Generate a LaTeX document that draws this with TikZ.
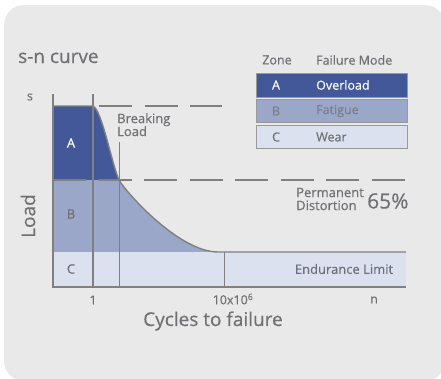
\documentclass[tikz,border=0pt]{standalone}
\usepackage{fontspec}
\setmainfont{Open Sans}[FakeBold=0.5]
\definecolor{panel}{RGB}{233,233,233}
\definecolor{zonea}{RGB}{67,88,152}
\definecolor{zoneb}{RGB}{155,167,201}
\definecolor{zonec}{RGB}{220,225,240}
\definecolor{txtgray}{RGB}{112,113,117}
\definecolor{linegray}{RGB}{128,128,128}
\newcommand{\fs}[1]{\fontsize{#1}{#1}\selectfont}
\begin{document}
\begin{tikzpicture}[x=1pt,y=-1pt,
    lbl/.style={text=txtgray, inner sep=0pt, font=\fs{12.5}},
    big/.style={text=txtgray, inner sep=0pt, font=\fs{19}},
    axis/.style={linegray, line width=2.2pt},
    guide/.style={linegray, line width=1pt},
    cut/.style={linegray, line width=1.4pt, dash pattern=on 33pt off 12.5pt},
    zonebox/.style={draw=linegray!80, line width=0.8pt}]
\useasboundingbox (0,0) rectangle (441,378);
\fill[panel, rounded corners=20pt] (4,5) rectangle (445,381);

% zones
\fill[zonea] (53,106) -- (93,106) .. controls (102,110) and (112,165) .. (119,180) -- (53,180) -- cycle;
\fill[zoneb] (53,180) -- (119,180) .. controls (128,195) and (180,252) .. (218,252) -- (53,252) -- cycle;
\fill[zonec] (53,252) rectangle (406,287);

% limits
\draw[cut] (53,180) -- (407,180);
\draw[cut] (99,106) -- (222,106);
\draw[linegray, line width=1.4pt] (53,106) -- (93,106) .. controls (102,110) and (112,165) .. (119,180)
    .. controls (128,195) and (180,252) .. (218,252) -- (406,252);
\draw[guide] (119,142) -- (119,287);
\draw[guide] (224,252) -- (224,287);
\draw[linegray, line width=1.6pt] (93,94) -- (93,287);
\draw[axis] (53,94) -- (53,287) -- (406,287);

\node[lbl, anchor=base west, font=\fs{19}] (title) at (18,63) {s-n curve};
\node[lbl] (smax) at (30,97) {s};
\node[big, rotate=90] (load) at (28,216) {Load};
\node[lbl] (one) at (93,300) {1};
\node[lbl] (tenmio) at (233,299) {10x10\textsuperscript{6}};
\node[lbl] (n) at (374,300) {n};
\node[big] (cycles) at (213,321) {Cycles to failure};

\node[lbl, anchor=north west, align=left, font=\fs{13}] (breaking) at (117,113) {Breaking\\Load};
\node[lbl, text=white, font=\fs{13}] (za) at (71,143) {A};
\node[lbl, font=\fs{13}] (zb) at (71,214) {B};
\node[lbl, font=\fs{13}] (zc) at (71,269) {C};

% legend
\node[lbl] (zone) at (277,60) {Zone};
\node[lbl, anchor=west] (mode) at (316,60) {Failure Mode};
\draw[zonebox, fill=zonea] (256,73) rectangle (407,97);
\draw[zonebox, fill=zoneb] (256,99) rectangle (407,122);
\draw[zonebox, fill=zonec] (256,125) rectangle (407,148);
\node[lbl, text=white] (ka) at (276,85) {A};
\node[lbl, text=white, anchor=west] (overload) at (316,85) {Overload};
\node[lbl, text=txtgray!90] (kb) at (276,111) {B};
\node[lbl, text=txtgray!90, anchor=west] (fatigue) at (316,111) {Fatigue};
\node[lbl] (kc) at (276,137) {C};
\node[lbl, anchor=west] (wear) at (316,137) {Wear};

\node[lbl, anchor=west, align=left, font=\fs{13}] (distortion) at (296,199) {Permanent\\Distortion};
\node[lbl, anchor=west, font=\fs{21}] (pct) at (367,201) {65\%};
\node[lbl, font=\fs{13}] (endurance) at (344,269) {Endurance Limit};
\end{tikzpicture}
\end{document}
